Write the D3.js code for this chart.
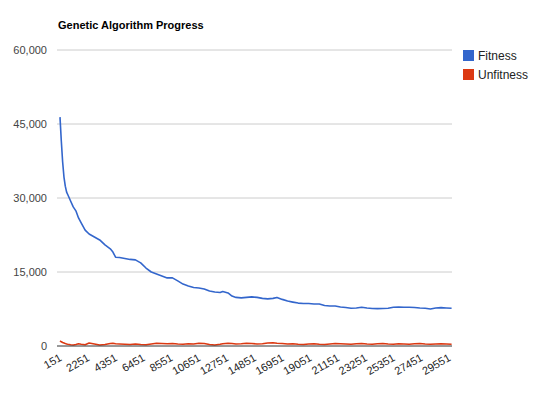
<!DOCTYPE html>
<html>
<head>
<meta charset="utf-8">
<script src="https://cdn.jsdelivr.net/npm/d3@7"></script>
<style>
  body { margin: 0; background: #fff; }
  svg { font-family: Arial, "Liberation Sans", sans-serif; }
</style>
</head>
<body>
<svg id="chart" width="540" height="396"></svg>
<script>
// generation numbers where values were read
const gens = [151,251,351,451,551,651,751,951,1151,1351,1551,1751,2051,2351,2751,3151,3551,3951,
  4151,4351,4651,5051,5451,5851,6251,6651,7051,7451,7851,8251,8651,9051,9451,9851,10251,10651,
  11051,11451,11851,12251,12451,12851,13151,13451,13851,14251,14651,15051,15451,15851,16251,16551,
  16951,17351,17751,18151,18551,18951,19351,19751,20151,20551,20951,21351,21751,22151,22551,22951,
  23351,23751,24151,24551,24951,25351,25751,26151,26551,26951,27351,27751,28151,28551,28951,29351,29751];

const fitness = [46400,41500,37300,34250,32400,31200,30600,29400,28200,27400,25950,24950,
  23500,22700,22100,21500,20500,19700,19050,18000,17950,17750,17550,17450,16850,15800,15000,14600,
  14200,13800,13800,13200,12550,12150,11850,11750,11550,11150,10950,10850,11050,10750,10130,9850,
  9750,9850,9950,9850,9650,9550,9650,9850,9450,9120,8900,8700,8600,8600,8500,8500,8200,8100,8100,
  7900,7800,7640,7700,7840,7700,7600,7570,7600,7640,7840,7900,7840,7840,7800,7700,7640,7500,7700,
  7770,7700,7640];

const unfitness = [1050,850,700,600,500,420,350,250,200,300,450,350,250,600,400,200,300,500,
  550,450,400,350,300,400,300,250,400,550,500,450,500,400,350,450,400,550,500,300,200,350,450,550,
  500,400,450,550,500,400,450,600,650,550,500,400,450,350,300,400,450,350,300,400,500,450,400,350,
  450,500,400,350,450,500,400,350,450,400,350,450,500,400,350,400,450,400,350];

const xTicks = [151,2251,4351,6451,8551,10651,12751,14851,16951,19051,21151,23251,25351,27451,29551];
const yTicks = [0,15000,30000,45000,60000];
const seriesNames = ["Fitness", "Unfitness"];
const colors = ["#3366cc", "#dc3912"];

const svg = d3.select("#chart");

const x = d3.scaleLinear().domain([151, 29751]).range([60, 451.6]);
const y = d3.scaleLinear().domain([0, 60000]).range([346, 50]);

// gridlines
svg.append("g")
  .selectAll("line")
  .data(yTicks.filter(d => d > 0))
  .enter().append("line")
  .attr("x1", 57).attr("x2", 452)
  .attr("y1", d => y(d)).attr("y2", d => y(d))
  .attr("stroke", "#cccccc").attr("stroke-width", 1);

// y labels
const yAxis = d3.axisLeft(y).tickValues(yTicks).tickFormat(d3.format(",")).tickSize(0).tickPadding(10);
const gy = svg.append("g").attr("transform", "translate(57,0)").call(yAxis);
gy.select(".domain").remove();
gy.selectAll("text").attr("fill", "#444").style("font-size", "11px");

// lines
const line = d3.line().x((d, i) => x(gens[i])).y(d => y(d));
[fitness, unfitness].forEach((s, k) => {
  svg.append("path")
    .datum(s)
    .attr("fill", "none")
    .attr("stroke", colors[k])
    .attr("stroke-width", 1.6)
    .attr("stroke-linejoin", "round")
    .attr("d", line);
});

// baseline
svg.append("line")
  .attr("x1", 57).attr("x2", 452)
  .attr("y1", y(0)).attr("y2", y(0))
  .attr("stroke", "#333").attr("stroke-width", 1);

// x labels (slanted)
const xAxis = d3.axisBottom(x).tickValues(xTicks).tickFormat(d3.format("d")).tickSize(0).tickPadding(0);
const gx = svg.append("g").attr("transform", "translate(0,346)").call(xAxis);
gx.select(".domain").remove();
gx.selectAll("text")
  .attr("fill", "#222")
  .style("font-size", "11px")
  .attr("text-anchor", "end")
  .attr("dy", null)
  .attr("y", 0)
  .attr("transform", "translate(2,14) rotate(-30)");

// title
svg.append("text")
  .attr("x", 58).attr("y", 29)
  .style("font-size", "11px").style("font-weight", "bold")
  .attr("fill", "#000")
  .text("Genetic Algorithm Progress");

// legend
const lg = svg.append("g").selectAll("g").data(seriesNames).enter().append("g")
  .attr("transform", (d, i) => `translate(463,${50 + i * 19})`);
lg.append("rect").attr("width", 11).attr("height", 11).attr("fill", (d, i) => colors[i]);
lg.append("text").attr("x", 15).attr("y", 10)
  .style("font-size", "12px").attr("fill", "#222").text(d => d);
</script>
</body>
</html>
